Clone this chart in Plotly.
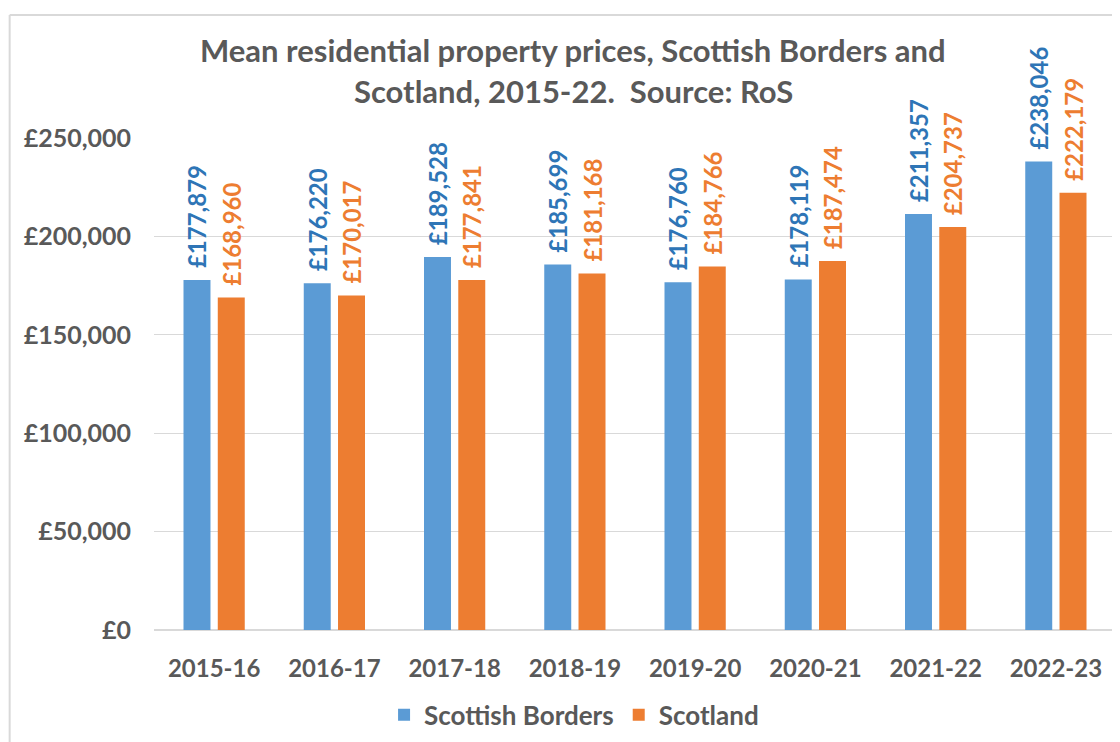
import plotly.graph_objects as go

categories = ["2015-16", "2016-17", "2017-18", "2018-19", "2019-20", "2020-21", "2021-22", "2022-23"]
borders = [177879, 176220, 189528, 185699, 176760, 178119, 211357, 238046]
scotland = [168960, 170017, 177841, 181168, 184766, 187474, 204737, 222179]
y_ticks = [0, 50000, 100000, 150000, 200000, 250000]
y_tick_labels = ["£" + format(v, ",") for v in y_ticks]

TITLE_1 = "Mean residential property prices, Scottish Borders and"
TITLE_2 = "Scotland, 2015-22.  Source: RoS"

GREY = "#595959"
FONT = "Lato"

# page has an 8px body margin; the figure is sized/positioned to compensate
OFF = 8
FW, FH = 1120 - OFF, 742 - OFF

# plot area in page pixels
L, R, T, B = 153.5, 1116.5, 137.7, 632.7
W, H = R - L, B - T


def px_x(px):
    return (px - L) / W


def px_y(py):
    return (B - py) / H


fig = go.Figure()
fig.add_trace(go.Bar(
    name="Scottish Borders", x=categories, y=borders,
    marker=dict(color="#5B9BD5", line=dict(width=0)),
    texttemplate="\u00a0\u2009£%{y:,}", textposition="outside", textangle=-90,
    textfont=dict(family=FONT, size=24, color="#2E75B6", weight="bold"),
    constraintext="none", cliponaxis=False,
))
fig.add_trace(go.Bar(
    name="Scotland", x=categories, y=scotland,
    marker=dict(color="#ED7D31", line=dict(width=0)),
    texttemplate="\u00a0\u2009£%{y:,}", textposition="outside", textangle=-90,
    textfont=dict(family=FONT, size=24, color="#ED7D31", weight="bold"),
    constraintext="none", cliponaxis=False,
))

fig.update_layout(
    width=FW, height=FH,
    margin=dict(l=L - OFF, r=1120 - R, t=T - OFF, b=742 - B, pad=0),
    paper_bgcolor="white", plot_bgcolor="white",
    barmode="group", bargap=0.43, bargroupgap=0.213,
    font=dict(family=FONT, color=GREY),
    showlegend=True,
    legend=dict(
        orientation="h", x=px_x(574), xanchor="center", y=px_y(718), yanchor="middle",
        font=dict(family=FONT, size=26, color=GREY, weight="bold"),
        bgcolor="rgba(0,0,0,0)", itemwidth=30, traceorder="normal",
    ),
    xaxis=dict(
        showgrid=False, showline=False, ticks="",
        tickfont=dict(family=FONT, size=24, color=GREY, weight="bold"),
        ticklabelstandoff=22,
    ),
    yaxis=dict(
        range=[0, 250000], tickvals=y_ticks, ticktext=y_tick_labels,
        showgrid=True, gridcolor="#D9D9D9", gridwidth=1,
        zeroline=True, zerolinecolor="#D9D9D9", zerolinewidth=2,
        showline=False, ticks="",
        tickfont=dict(family=FONT, size=25, color=GREY, weight="bold"),
        ticklabelstandoff=22,
    ),
    annotations=[
        dict(text=TITLE_1, xref="paper", yref="paper", x=px_x(573), y=px_y(49),
             xanchor="center", yanchor="middle", showarrow=False,
             font=dict(family=FONT, size=31, color=GREY, weight="bold")),
        dict(text=TITLE_2, xref="paper", yref="paper", x=px_x(573), y=px_y(90),
             xanchor="center", yanchor="middle", showarrow=False,
             font=dict(family=FONT, size=31, color=GREY, weight="bold")),
    ],
    shapes=[
        dict(type="line", xref="paper", yref="paper", x0=px_x(9), x1=px_x(1130),
             y0=px_y(14), y1=px_y(14), line=dict(color="#D9D9D9", width=2)),
        dict(type="line", xref="paper", yref="paper", x0=px_x(9), x1=px_x(9),
             y0=px_y(14), y1=px_y(750), line=dict(color="#D9D9D9", width=2)),
    ],
)

fig.write_html("out.html")
